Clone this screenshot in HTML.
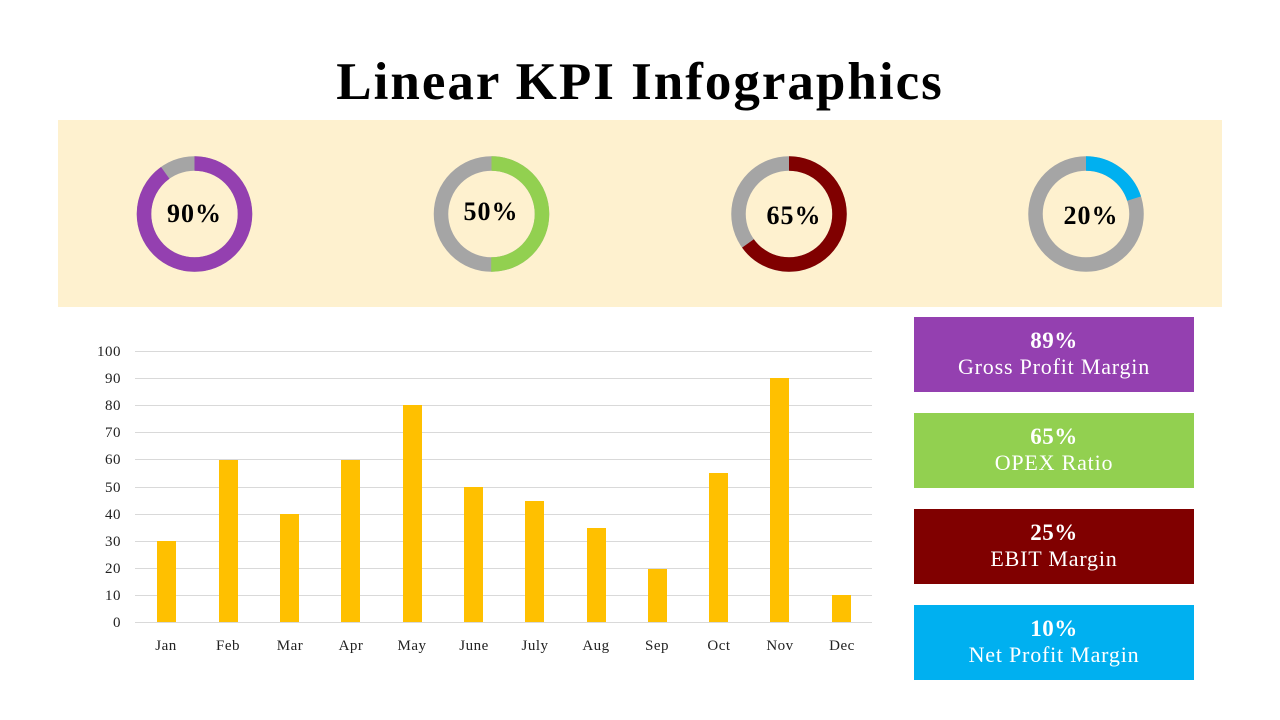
<!DOCTYPE html>
<html><head><style>
body{margin:0;width:1280px;height:720px;background:#fff;position:relative;overflow:hidden;font-family:"Liberation Serif",serif}
.t{position:absolute;left:0;width:1280px;text-align:center;top:52px;font-size:53px;font-weight:bold;color:#000;letter-spacing:2px}
.band{position:absolute;left:58px;top:120px;width:1164px;height:187px;background:#FEF1CF}
.box{position:absolute;left:914px;width:280px;height:75px;color:#fff;text-align:center}
.box b{display:block;font-size:23px;margin-top:11px;line-height:26px;letter-spacing:0.5px}
.box span{display:block;font-size:22px;line-height:26px;letter-spacing:0.8px}
</style></head><body>
<div class="t">Linear KPI Infographics</div>
<div class="band"></div>
<svg width="1280" height="720" style="position:absolute;left:0;top:0" font-family="Liberation Serif, serif">
<g fill="none" stroke-width="14.5">
<g transform="translate(194.5,214) rotate(-90)"><circle r="50.5" stroke="#A5A5A5"/><circle r="50.5" stroke="#9440B0" stroke-dasharray="285.6 400"/></g>
<g transform="translate(491.5,214) rotate(-90)"><circle r="50.5" stroke="#A5A5A5"/><circle r="50.5" stroke="#92D050" stroke-dasharray="158.7 400"/></g>
<g transform="translate(789,214) rotate(-90)"><circle r="50.5" stroke="#A5A5A5"/><circle r="50.5" stroke="#800000" stroke-dasharray="206.2 400"/></g>
<g transform="translate(1086,214) rotate(-90)"><circle r="50.5" stroke="#A5A5A5"/><circle r="50.5" stroke="#00B0F0" stroke-dasharray="63.5 400"/></g>
</g>
<g font-size="26" font-weight="bold" text-anchor="middle" letter-spacing="1">
<text x="194.5" y="222">90%</text><text x="491" y="220">50%</text><text x="794" y="224">65%</text><text x="1091" y="224">20%</text>
</g>
<g stroke="#D9D9D9" stroke-width="1">
<line x1="135" x2="872" y1="351.5" y2="351.5"/><line x1="135" x2="872" y1="378.5" y2="378.5"/><line x1="135" x2="872" y1="405.5" y2="405.5"/><line x1="135" x2="872" y1="432.5" y2="432.5"/><line x1="135" x2="872" y1="459.5" y2="459.5"/><line x1="135" x2="872" y1="487.5" y2="487.5"/><line x1="135" x2="872" y1="514.5" y2="514.5"/><line x1="135" x2="872" y1="541.5" y2="541.5"/><line x1="135" x2="872" y1="568.5" y2="568.5"/><line x1="135" x2="872" y1="595.5" y2="595.5"/><line x1="135" x2="872" y1="622.5" y2="622.5"/>
</g>
<g font-size="15" text-anchor="end" fill="#222" letter-spacing="0.5">
<text x="121" y="356">100</text><text x="121" y="383">90</text><text x="121" y="410">80</text><text x="121" y="437">70</text><text x="121" y="464">60</text><text x="121" y="492">50</text><text x="121" y="519">40</text><text x="121" y="546">30</text><text x="121" y="573">20</text><text x="121" y="600">10</text><text x="121" y="627">0</text>
</g>
<g fill="#FFC000">
<rect x="157" y="541" width="19" height="81"/><rect x="219" y="460" width="19" height="162"/><rect x="280" y="514" width="19" height="108"/><rect x="341" y="460" width="19" height="162"/><rect x="403" y="405" width="19" height="217"/><rect x="464" y="487" width="19" height="135"/><rect x="525" y="501" width="19" height="121"/><rect x="587" y="528" width="19" height="94"/><rect x="648" y="569" width="19" height="53"/><rect x="709" y="473" width="19" height="149"/><rect x="770" y="378" width="19" height="244"/><rect x="832" y="595" width="19" height="27"/>
</g>
<g font-size="15" text-anchor="middle" fill="#222" letter-spacing="0.5">
<text x="166" y="650">Jan</text><text x="228" y="650">Feb</text><text x="290" y="650">Mar</text><text x="351" y="650">Apr</text><text x="412" y="650">May</text><text x="474" y="650">June</text><text x="535" y="650">July</text><text x="596" y="650">Aug</text><text x="657" y="650">Sep</text><text x="719" y="650">Oct</text><text x="780" y="650">Nov</text><text x="842" y="650">Dec</text>
</g>
</svg>
<div class="box" style="top:317px;background:#9440B0"><b>89%</b><span>Gross Profit Margin</span></div>
<div class="box" style="top:413px;background:#92D050"><b>65%</b><span>OPEX Ratio</span></div>
<div class="box" style="top:509px;background:#800000"><b>25%</b><span>EBIT Margin</span></div>
<div class="box" style="top:605px;background:#00B0F0"><b>10%</b><span>Net Profit Margin</span></div>
</body></html>
